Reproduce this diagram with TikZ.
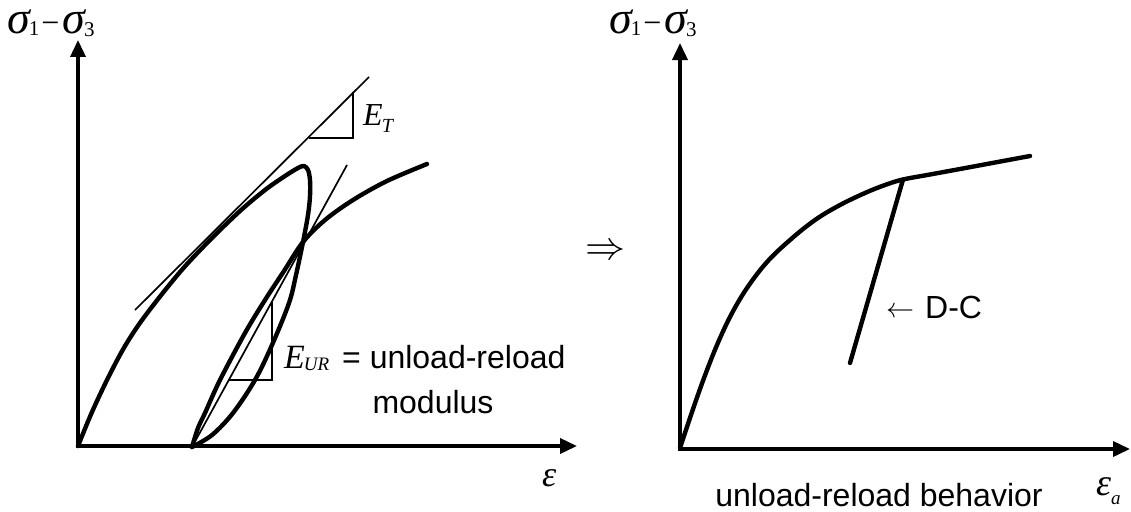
\documentclass[tikz,border=0pt]{standalone}
\usepackage{fontspec}
\setmainfont{Liberation Sans}
\newfontfamily\tms{Liberation Serif}
\usetikzlibrary{arrows.meta}
\newcommand\mysig[2]{{\tms\itshape\fontsize{46}{46}\selectfont σ}\kern-1pt\raisebox{-#2pt}{\tms\fontsize{21}{21}\selectfont #1}}
\newcommand\mymin{\kern2pt{\tms\fontsize{32}{32}\selectfont −}\kern3pt}
\newcommand\sigdiff{\mysig{1}{2}\mymin\mysig{3}{3}}
\begin{document}
\begin{tikzpicture}[x=1pt,y=-1pt,
  axis/.style={line width=3.6pt,line join=miter,{Triangle[length=17pt,width=15pt]}-{Triangle[length=17pt,width=15pt]}},
  curve/.style={line width=4.4pt,line cap=round,line join=round},
  thinline/.style={line width=1.7pt},
  lbl/.style={inner sep=0pt,font=\fontsize{32}{36}\selectfont},
  mth/.style={inner sep=0pt}]
\useasboundingbox (0,0) rectangle (1131,511);

% ---------- left plot ----------
\draw[axis] (78,40) -- (78,446) -- (577,446);
% tangent line and E_T triangle
\draw[thinline] (135,310) -- (369,77);
\draw[thinline] (309,138) -- (353,138) -- (353,92);
% chord line and E_UR triangle
\draw[thinline] (192,447) -- (347,165);
\draw[thinline] (228,380) -- (272,380) -- (272,302);
% loading and unloading
\draw[curve] plot[smooth,tension=0.55] coordinates {(78,446) (92,412) (108,378) (125,346) (145,316) (180,272) (210,240) (240,211) (265,190) (285,176) (298,168) (304,166) (308,170) (310,180) (310,196) (308,215) (303,242) (296,275) (289,303) (272,345) (255,380) (233,413) (212,435) (192,447)};
% reloading
\draw[curve] plot[smooth,tension=0.55] coordinates {(192,447) (198,428) (205,413) (220,380) (245,333) (265,300) (284,271) (303,242) (325,220) (353,200) (387,181) (427,164)};

\node[mth,anchor=base west] (sl) at (7,34) {\sigdiff};
\node[mth,anchor=base west] (et) at (363,125) {{\tms\itshape\fontsize{32}{32}\selectfont E}\kern-1pt\raisebox{-7pt}{\tms\itshape\fontsize{20}{20}\selectfont T}};
\node[mth,anchor=base west] (eur) at (284,368) {{\tms\itshape\fontsize{34}{34}\selectfont E}\kern-1pt\raisebox{-2pt}{\tms\itshape\fontsize{19}{19}\selectfont UR}};
\node[lbl,anchor=base west] (eq) at (342,368) {= unload-reload};
\node[lbl,anchor=base] (mod) at (433,413) {modulus};
\node[mth,anchor=base west] (eps) at (542,486) {{\tms\itshape\fontsize{36}{36}\selectfont ε}};

% ---------- arrow ----------
\node[mth,scale=4] (impl) at (605,252) {$\Rightarrow$};

% ---------- right plot ----------
\draw[axis] (680,43) -- (680,449) -- (1130,449);
\draw[curve] plot[smooth,tension=0.6] coordinates {(680,448) (692,412) (704,378) (717,345) (731,315) (747,288) (767,262) (790,240) (815,220) (840,205) (865,193) (885,185) (903,179.5) (930,174.5) (960,169) (995,162.5) (1030,156)};
\draw[curve] (903,179.5) -- (850,363);

\node[mth,anchor=base west] (sr) at (609,34) {\sigdiff};
\node[lbl,anchor=base west] (dc) at (886,318) {\raisebox{1pt}{\scalebox{2.8}{\fontsize{10}{12}\selectfont$\leftarrow$}}\kern11pt D-C};
\node[mth,anchor=base west] (epsa) at (1096,495) {{\tms\itshape\fontsize{38}{38}\selectfont ε}\raisebox{-9pt}{\tms\itshape\fontsize{19}{19}\selectfont a}};
\node[lbl,anchor=base] (beh) at (879,506) {unload-reload behavior};
\end{tikzpicture}
\end{document}
